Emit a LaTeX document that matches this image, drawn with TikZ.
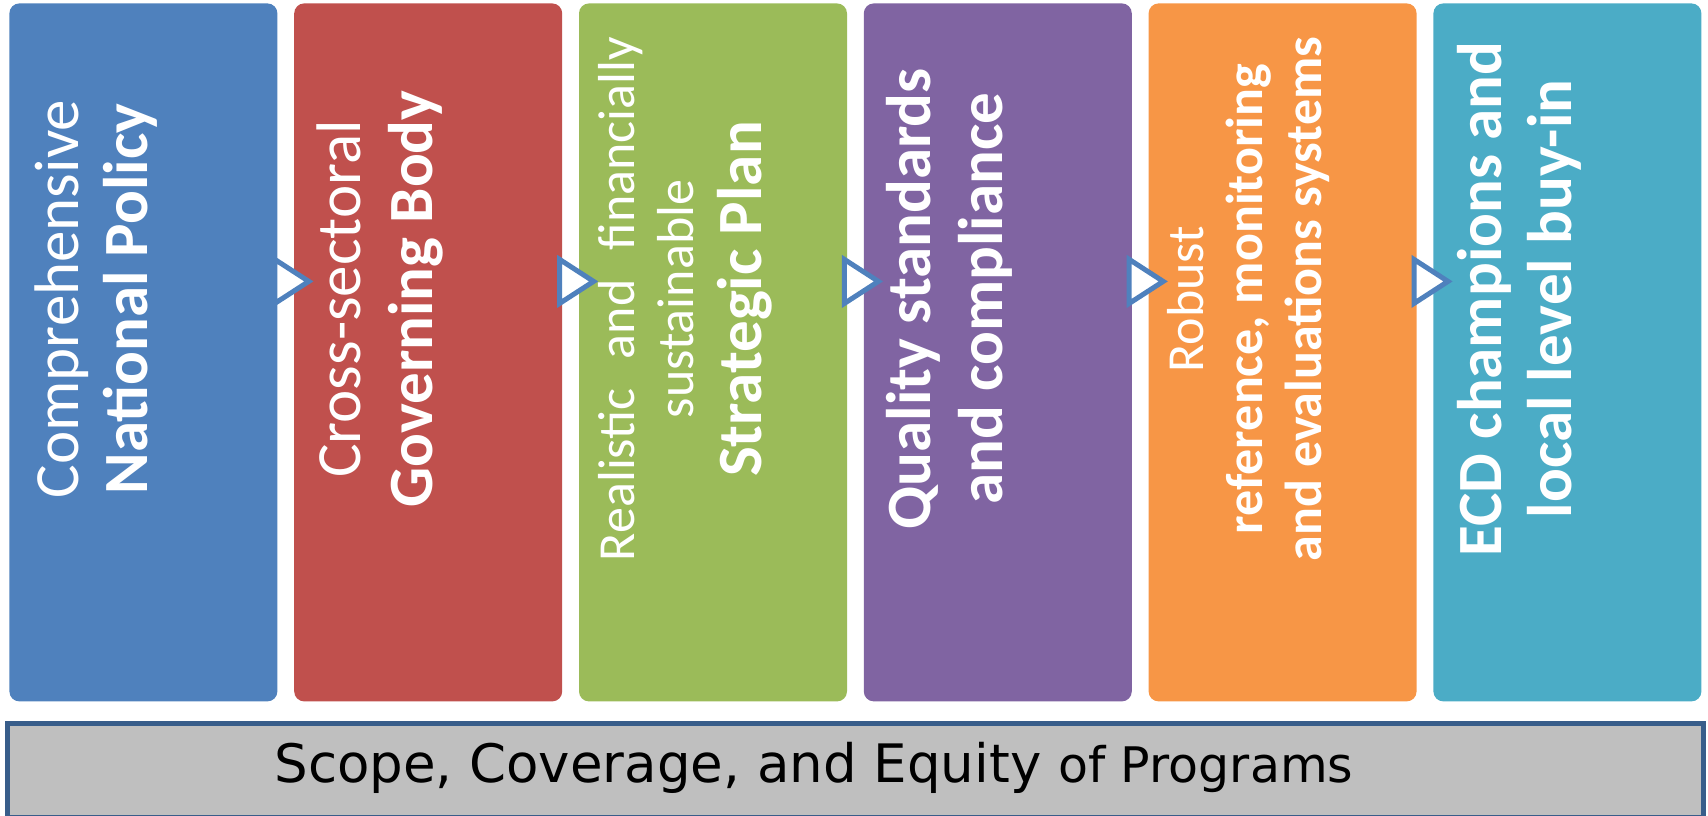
\documentclass[tikz,border=0pt]{standalone}
\usepackage{fontspec}
\setmainfont{Carlito}
\newfontfamily\scopefont{DejaVu Sans}
\usetikzlibrary{positioning,calc}

\definecolor{policyblue}{HTML}{4F81BD}
\definecolor{bodyred}{HTML}{C0504D}
\definecolor{plangreen}{HTML}{9BBB59}
\definecolor{qualitypurple}{HTML}{8064A2}
\definecolor{monitororange}{HTML}{F79646}
\definecolor{champteal}{HTML}{4BACC6}
\definecolor{scopegray}{HTML}{BFBFBF}
\definecolor{scopeframe}{HTML}{385D8A}

\begin{document}
\begin{tikzpicture}[x=0.5pt, y=0.5pt,
    pillar/.style={rounded corners=5pt, minimum width=134pt, minimum height=349pt, inner sep=0pt},
    lite/.style={text=white, rotate=90, anchor=base, inner sep=0pt, font=\fontsize{31.5}{36}\selectfont},
    heavy/.style={lite, font=\fontsize{31.5}{36}\selectfont\bfseries},
    litesmall/.style={lite, font=\fontsize{26}{30}\selectfont},
    heavysmall/.style={lite, font=\fontsize{26}{30}\selectfont\bfseries},
    flowtip/.style={draw=policyblue, fill=white, line width=2.5pt},
    scopebar/.style={draw=scopeframe, fill=scopegray, line width=2.5pt, minimum width=848pt, minimum height=47pt, inner sep=0pt}]
    \useasboundingbox (0,0) rectangle (1708,-815);

    \node[pillar, fill=policyblue, anchor=north west] (policy) at (9,-3) {};
    \node[pillar, fill=bodyred, right=8pt of policy] (body) {};
    \node[pillar, fill=plangreen, right=8pt of body] (plan) {};
    \node[pillar, fill=qualitypurple, right=8pt of plan] (quality) {};
    \node[pillar, fill=monitororange, right=8pt of quality] (monitor) {};
    \node[pillar, fill=champteal, right=8pt of monitor] (champions) {};

    \draw[flowtip] ($(policy.east)+(-3,93)$) -- ($(policy.east)+(31,71)$) -- ($(policy.east)+(-3,49)$) -- cycle;
    \draw[flowtip] ($(body.east)+(-3,93)$) -- ($(body.east)+(31,71)$) -- ($(body.east)+(-3,49)$) -- cycle;
    \draw[flowtip] ($(plan.east)+(-3,93)$) -- ($(plan.east)+(31,71)$) -- ($(plan.east)+(-3,49)$) -- cycle;
    \draw[flowtip] ($(quality.east)+(-3,93)$) -- ($(quality.east)+(31,71)$) -- ($(quality.east)+(-3,49)$) -- cycle;
    \draw[flowtip] ($(monitor.east)+(-3,93)$) -- ($(monitor.east)+(31,71)$) -- ($(monitor.east)+(-3,49)$) -- cycle;

    \node[lite] (policyA) at ($(policy.north west)+(69,-296)$) {Comprehensive};
    \node[heavy] (policyB) at ($(policy.north west)+(138,-296)$) {National Policy};

    \node[lite] (bodyA) at ($(body.north west)+(67,-296)$) {Cross-sectoral};
    \node[heavy] (bodyB) at ($(body.north west)+(139,-296)$) {Governing Body};

    \node[litesmall] (planA) at ($(plan.north west)+(56,-296)$) {\makebox[262pt][s]{Realistic and financially}};
    \node[litesmall] (planB) at ($(plan.north west)+(115,-296)$) {sustainable};
    \node[heavy] (planC) at ($(plan.north west)+(183,-296)$) {Strategic Plan};

    \node[heavy] (qualityA) at ($(quality.north west)+(67,-296)$) {Quality standards};
    \node[heavy] (qualityB) at ($(quality.north west)+(139,-296)$) {and compliance};

    \node[litesmall] (monitorA) at ($(monitor.north west)+(55,-296)$) {Robust};
    \node[heavysmall] (monitorB) at ($(monitor.north west)+(114,-296)$) {reference, monitoring};
    \node[heavysmall] (monitorC) at ($(monitor.north west)+(173,-296)$) {and evaluations systems};

    \node[heavy] (championsA) at ($(champions.north west)+(68,-296)$) {ECD champions and};
    \node[heavy] (championsB) at ($(champions.north west)+(138,-296)$) {local level buy-in};

    \node[scopebar, anchor=north west] (scope) at (4.5,-720.5) {};
    \node[anchor=base west, inner sep=0pt, font=\scopefont\fontsize{26.5}{30}\selectfont] (scopetext) at (274,-782) {Scope, Coverage, and Equity {\fontsize{24.5}{28}\selectfont of Programs}};
\end{tikzpicture}
\end{document}
